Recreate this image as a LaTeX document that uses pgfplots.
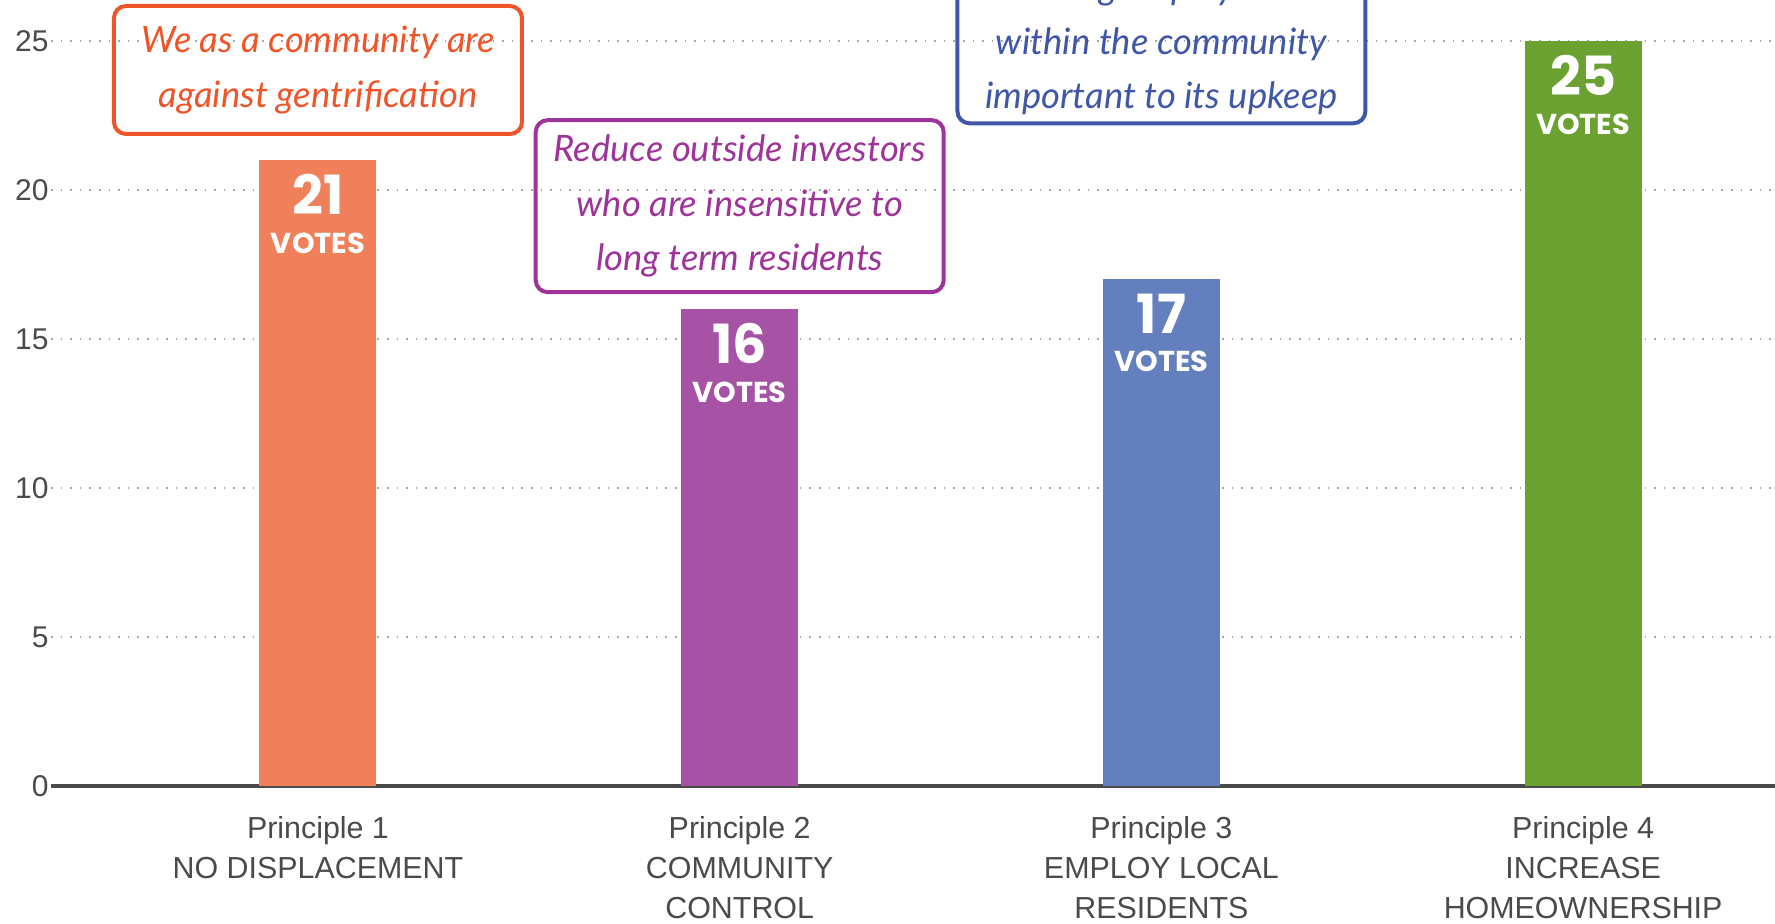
\documentclass[border=0pt]{standalone}
\usepackage{pgfplots}
\pgfplotsset{compat=1.18}
\usepackage{fontspec}
\setmainfont{Liberation Sans}
\newfontfamily\pop{Poppins}
\newfontfamily\hand{Lato}

\definecolor{barOrange}{HTML}{F0805A}
\definecolor{barPurple}{HTML}{A652A5}
\definecolor{barBlue}{HTML}{637FBE}
\definecolor{barGreen}{HTML}{6AA130}
\definecolor{boxOrange}{HTML}{F0552A}
\definecolor{boxPurple}{HTML}{9E3399}
\definecolor{boxBlue}{HTML}{4057A8}
\definecolor{txtGray}{HTML}{4A4A4A}

\begin{document}
\begin{tikzpicture}[
  note/.style={line width=1pt, rounded corners=3pt, font=\hand\itshape\fontsize{9.1}{13.6}\selectfont, align=center, minimum width=102pt},
]
\begin{axis}[
  scale only axis, width=431pt, height=196.5pt,
  xmin=-0.633, xmax=3.455, ymin=0, ymax=26.38,
  clip=false,
  axis lines*=left,
  y axis line style={draw=none},
  x axis line style={draw=txtGray, line width=0.8pt},
  major tick length=0pt,
  xtick={0,1,2,3},
  xticklabels={{Principle 1\\NO DISPLACEMENT},{Principle 2\\COMMUNITY\\CONTROL},{Principle 3\\EMPLOY LOCAL\\RESIDENTS},{Principle 4\\INCREASE\\HOMEOWNERSHIP}},
  xticklabel style={align=center, anchor=north, font=\fontsize{7.6}{10}\selectfont, text=txtGray, yshift=-4pt},
  ytick={0,5,...,25},
  yticklabel style={font=\fontsize{7.5}{8}\selectfont, text=txtGray, xshift=2.9pt},
  /pgf/number format/assume math mode=true,
  ymajorgrids, major grid style={dotted, gray!70, line width=0.5pt},
  ybar, bar width=29.25pt,
  nodes near coords={{\fontsize{13.5}{9.65}\selectfont\pgfmathprintnumber{\pgfplotspointmeta}}\\VOTES},
  every node near coord/.style={anchor=north, yshift=-3.4pt, inner sep=0pt, align=center, text=white, font=\pop\bfseries\fontsize{7.2}{9.65}\selectfont},
]
\addplot[fill=barOrange, draw=none, bar shift=0pt] coordinates {(0,21)};
\addplot[fill=barPurple, draw=none, bar shift=0pt] coordinates {(1,16)};
\addplot[fill=barBlue, draw=none, bar shift=0pt] coordinates {(2,17)};
\addplot[fill=barGreen, draw=none, bar shift=0pt] coordinates {(3,25)};

\node[note, draw=boxOrange, text=boxOrange, minimum height=32pt] at (axis cs:0,24.03) {We as a community are\\against gentrification};
\node[note, draw=boxPurple, text=boxPurple, minimum height=43pt] at (axis cs:1,19.46) {Reduce outside investors\\who are insensitive to\\long term residents};
\node[note, draw=boxBlue, text=boxBlue, inner ysep=0pt, minimum height=39.6pt] at (axis cs:2,24.90) {Having employment\\within the community\\important to its upkeep};

\coordinate (pbl) at (axis cs:-0.754,-4.6);
\coordinate (ptr) at (axis cs:3.455,26.38);
\end{axis}
\pgfresetboundingbox
\useasboundingbox (pbl) rectangle (ptr);
\end{tikzpicture}
\end{document}
